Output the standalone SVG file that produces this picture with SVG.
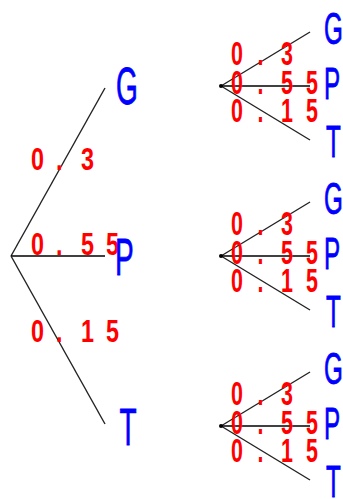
<svg xmlns="http://www.w3.org/2000/svg" width="343" height="499" viewBox="0 0 343 499">
<style>
.e{stroke:#222;stroke-width:1.4;fill:none}
.h{stroke:#000;stroke-width:1.6;fill:none}
.n{font-family:"Liberation Sans",Arial,sans-serif;font-weight:normal;fill:#0000FF;stroke:#0000FF;stroke-width:0.8}
.m{font-size:51px}
.s{font-size:44px}
.p{font-family:"Liberation Sans",Arial,sans-serif;font-weight:bold;fill:#FF0000}
.pm{font-size:32px}
.ps{font-size:33px}
</style>
<defs>
<g id="sub">
<line class="e" x1="221" y1="86" x2="310" y2="32"/>
<line class="h" x1="221" y1="86" x2="310" y2="86"/>
<line class="e" x1="221" y1="86" x2="310" y2="140"/>
<circle cx="221" cy="86" r="2" fill="#000"/>
</g>
<g id="sublab">
<text class="p ps" transform="translate(231,65) scale(0.65,1)" x="0 40.8 76.9">0.3</text>
<text class="p ps" transform="translate(231,94) scale(0.65,1)" x="0 40.8 76.9 115.4">0.55</text>
<text class="p ps" transform="translate(231,122) scale(0.65,1)" x="0 40.8 76.9 115.4">0.15</text>
</g>
</defs>
<g id="connectors">
<line class="e" x1="11" y1="256" x2="105" y2="88"/>
<line class="h" x1="11" y1="256" x2="105" y2="256"/>
<line class="e" x1="11" y1="256" x2="105" y2="424"/>
<use href="#sub"/>
<use href="#sub" y="170"/>
<use href="#sub" y="340"/>
</g>
<g id="labels">
<text class="p pm" transform="translate(31,170) scale(0.73,1)" x="0 34.2 68.5">0.3</text>
<text class="p pm" transform="translate(31,255) scale(0.73,1)" x="0 34.2 68.5 102.7">0.55</text>
<text class="p pm" transform="translate(31,342) scale(0.73,1)" x="0 34.2 68.5 102.7">0.15</text>
<use href="#sublab"/>
<use href="#sublab" y="170"/>
<use href="#sublab" y="340"/>
</g>
<g id="G"><text class="n m" transform="translate(116,104) scale(0.55,1)">G</text></g>
<g id="P"><text class="n m" transform="translate(115,275) scale(0.55,1)">P</text></g>
<g id="T"><text class="n m" transform="translate(119.5,445) scale(0.55,1)">T</text></g>
<g id="G1"><text class="n s" transform="translate(324,44) scale(0.55,1)">G</text></g>
<g id="P1"><text class="n s" transform="translate(324,99) scale(0.55,1)">P</text></g>
<g id="T1"><text class="n s" transform="translate(326,157) scale(0.55,1)">T</text></g>
<g id="G2"><text class="n s" transform="translate(324,214) scale(0.55,1)">G</text></g>
<g id="P2"><text class="n s" transform="translate(324,269) scale(0.55,1)">P</text></g>
<g id="T2"><text class="n s" transform="translate(326,327) scale(0.55,1)">T</text></g>
<g id="G3"><text class="n s" transform="translate(324,384) scale(0.55,1)">G</text></g>
<g id="P3"><text class="n s" transform="translate(324,439) scale(0.55,1)">P</text></g>
<g id="T3"><text class="n s" transform="translate(326,497) scale(0.55,1)">T</text></g>
</svg>
